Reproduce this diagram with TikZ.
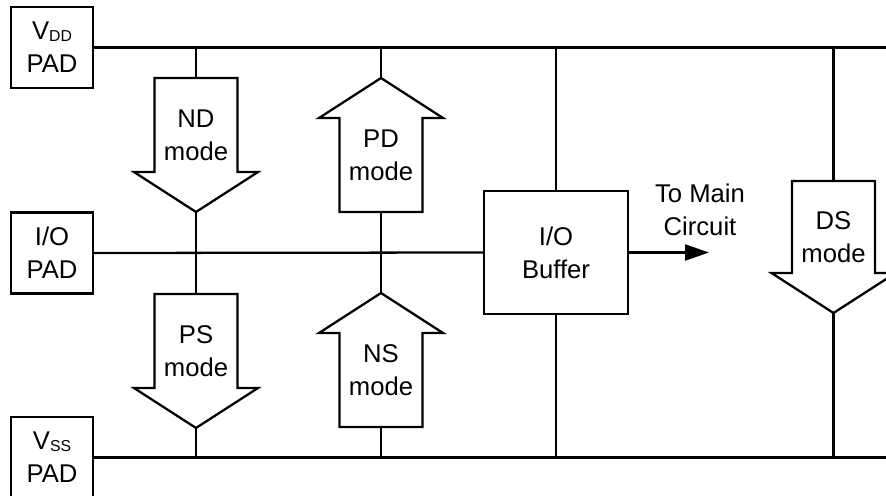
\documentclass[tikz,border=0pt]{standalone}
\usepackage{fontspec}
\setmainfont{Liberation Sans}
\usetikzlibrary{arrows.meta}
\tikzset{
  wire/.style={line width=1.3pt},
  padbox/.style={draw, line width=1.3pt, minimum width=1.64cm, minimum height=1.62cm,
    inner sep=0pt, align=center},
  bufbox/.style={draw, line width=1.3pt, minimum width=2.88cm, minimum height=2.46cm,
    inner sep=0pt, align=center},
  modetext/.style={inner sep=0pt, align=center},
}
\newcommand{\padsub}[1]{\raisebox{-0.15ex}{\fontsize{9}{9}\selectfont #1}}
\newcommand{\modearrow}[5]{% name x tail tip label
  \pgfmathsetmacro{\neck}{#4 + ((#3 > #4) ? 40 : -40)}
  \pgfmathsetmacro{\texty}{(#3 + \neck)/2 + ((#3 > #4) ? -10 : 10)}
  \draw[wire] (#2-41.5,#3) -- (#2-41.5,\neck) -- (#2-62,\neck) -- (#2,#4)
    -- (#2+62,\neck) -- (#2+41.5,\neck) -- (#2+41.5,#3) -- cycle;
  \coordinate (#1-in) at (#2,#3);
  \coordinate (#1-out) at (#2,#4);
  \node[modetext] (#1) at (#2,\texty) {#5};
}

\begin{document}
\begin{tikzpicture}[x=0.02cm, y=-0.02cm, font=\fontsize{14.6}{18.8}\selectfont]
  \useasboundingbox (0,0) rectangle (886,496);

  % pads on the left, buffer in the middle
  \node[padbox] (vdd) at (52,47.5) {V\padsub{DD}\\PAD};
  \node[padbox] (io) at (52,253) {I/O\\PAD};
  \node[padbox] (vss) at (52,457.5) {V\padsub{SS}\\PAD};
  \node[bufbox] (buf) at (556,252.5) {I/O\\Buffer};

  % rails
  \coordinate (topend) at (886,47.5);
  \coordinate (botend) at (886,457.5);
  \draw[wire] (vdd.east) -- (topend);
  \draw[wire] (io.east) -- (buf.west);
  \draw[wire] (vss.east) -- (botend);

  % the five ESD modes
  \modearrow{nd}{196}{78}{212}{ND\\mode}
  \modearrow{ps}{196}{294}{428}{PS\\mode}
  \modearrow{pd}{381}{212}{78}{PD\\mode}
  \modearrow{ns}{381}{427}{293}{NS\\mode}
  \modearrow{ds}{833.5}{181}{313}{DS\\mode}

  % branches between the rails
  \draw[wire] (nd-in |- vdd.east) -- (nd-in);
  \draw[wire] (nd-out) -- (ps-in);
  \draw[wire] (ps-out) -- (ps-out |- vss.east);
  \draw[wire] (pd-out |- vdd.east) -- (pd-out);
  \draw[wire] (pd-in) -- (ns-out);
  \draw[wire] (ns-in) -- (ns-in |- vss.east);
  \draw[wire] (buf.north |- vdd.east) -- (buf.north);
  \draw[wire] (buf.south) -- (buf.south |- vss.east);
  \draw[wire] (ds-in |- vdd.east) -- (ds-in);
  \draw[wire] (ds-out) -- (ds-out |- vss.east);

  % output to the core
  \coordinate (mainout) at (709,252.5);
  \draw[wire, -{Triangle[length=0.48cm, width=0.32cm]}] (buf.east) -- (mainout);
  \node[modetext] (tomain) at (700,210) {To Main\\Circuit};
\end{tikzpicture}
\end{document}
